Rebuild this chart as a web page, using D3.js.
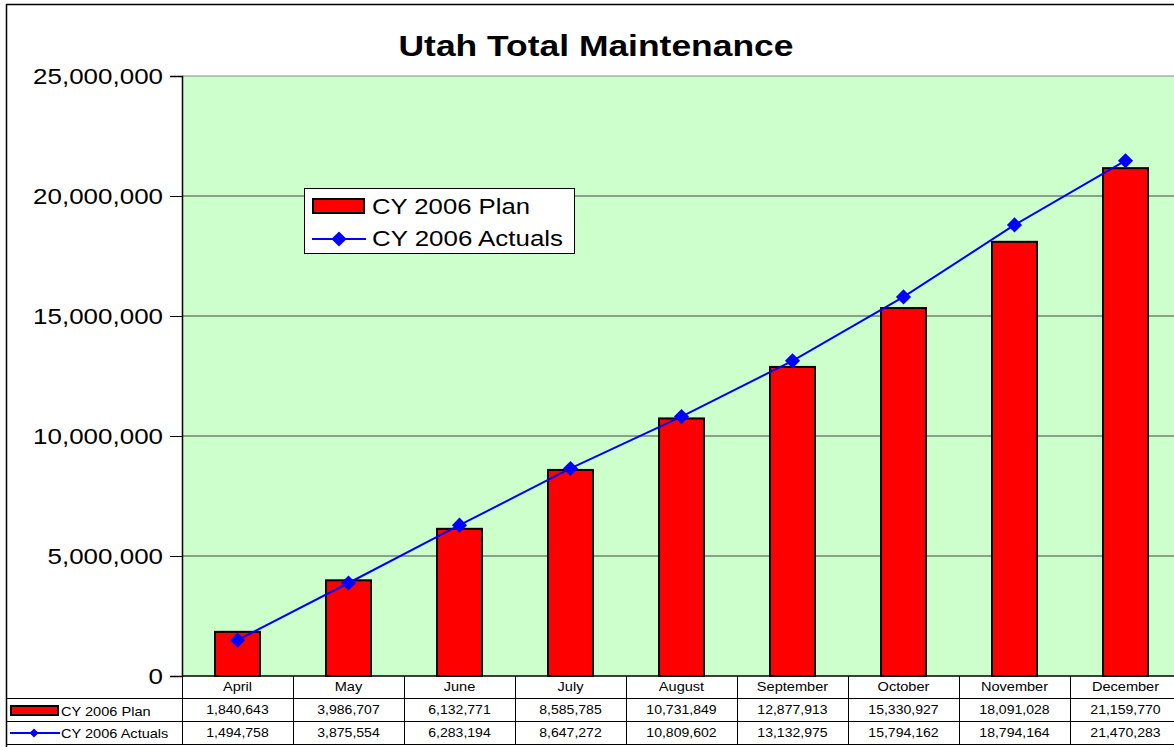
<!DOCTYPE html>
<html><head><meta charset="utf-8">
<script src="https://cdn.jsdelivr.net/npm/d3@7"></script>
<style>body{margin:0;background:#fff;}svg{display:block;font-family:Arial,"Liberation Sans",sans-serif;}</style>
</head><body>
<svg id="c" width="1174" height="747"></svg>
<script>
const categories = ["April","May","June","July","August","September","October","November","December"];
const planValues = [1840643,3986707,6132771,8585785,10731849,12877913,15330927,18091028,21159770];
const actualValues = [1494758,3875554,6283194,8647272,10809602,13132975,15794162,18794164,21470283];
const seriesNames = ["CY 2006 Plan","CY 2006 Actuals"];
const yTicks = [0,5000000,10000000,15000000,20000000,25000000];
const title = "Utah Total Maintenance";

const svg = d3.select("#c");
const L = 182, R = 1181, T = 76, B = 676;
const x = d3.scaleBand().domain(categories).range([L, R]).paddingInner(0.595).paddingOuter(0.2975);
const xc = d3.scaleBand().domain(categories).range([L, R]);
const y = d3.scaleLinear().domain([0, 25000000]).range([B, T]);
const fmt = d3.format(",");

function stretch(sel, f) {
  sel.each(function(){
    const n = this.getComputedTextLength();
    d3.select(this).attr("textLength", n*f).attr("lengthAdjust","spacingAndGlyphs");
  });
}

// outer border
svg.append("rect").attr("x",6.5).attr("y",4.5).attr("width",1180).attr("height",760).attr("fill","#fff").attr("stroke","#000").attr("stroke-width",1.5);

// plot bg
svg.append("rect").attr("x",L).attr("y",T).attr("width",R-L).attr("height",B-T).attr("fill","#CCFFCC");

// gridlines
svg.append("g").selectAll("line").data(yTicks.filter(d=>d>0)).join("line")
  .attr("x1",L).attr("x2",R).attr("y1",d=>y(d)).attr("y2",d=>y(d))
  .attr("stroke",d=>d===25000000?"#888":"#444").attr("stroke-width",1);

// y axis
const ya = svg.append("g").attr("transform",`translate(${L},0)`)
  .call(d3.axisLeft(y).tickValues(yTicks).tickFormat(fmt).tickSize(12).tickPadding(7));
ya.select(".domain").attr("stroke","#000").attr("stroke-width",1.5);
ya.selectAll(".tick line").attr("stroke","#000");
ya.selectAll(".tick text").attr("font-size",22).attr("fill","#000").attr("font-family","Arial, 'Liberation Sans', sans-serif").attr("dy","0.36em");
stretch(ya.selectAll(".tick text"), 1.18);

// bars
svg.append("g").selectAll("rect").data(planValues).join("rect")
  .attr("x",(d,i)=>x(categories[i])).attr("width",x.bandwidth())
  .attr("y",d=>y(d)).attr("height",d=>B-y(d))
  .attr("fill","#FF0000").attr("stroke","#000").attr("stroke-width",2);

// line
const cx = c => xc(c)+xc.bandwidth()/2;
svg.append("path").datum(actualValues)
  .attr("d",d3.line().x((d,i)=>cx(categories[i])).y(d=>y(d)))
  .attr("fill","none").attr("stroke","#0000FF").attr("stroke-width",2);
const diamond = d3.symbol().type(d3.symbolSquare).size(115);
svg.append("g").selectAll("path").data(actualValues).join("path")
  .attr("d",diamond).attr("transform",(d,i)=>`translate(${cx(categories[i])},${y(d)}) rotate(45)`)
  .attr("fill","#0000FF");

// title
const tt = svg.append("text").attr("x",596).attr("y",56).attr("text-anchor","middle")
  .attr("font-size",29).attr("font-weight","bold").text(title);
tt.attr("textLength",395).attr("lengthAdjust","spacingAndGlyphs");

// legend
const lg = svg.append("g");
lg.append("rect").attr("x",304.5).attr("y",188.5).attr("width",270).attr("height",65).attr("fill","#fff").attr("stroke","#000").attr("stroke-width",1);
lg.append("rect").attr("x",313).attr("y",199).attr("width",51).attr("height",14).attr("fill","#FF0000").attr("stroke","#000").attr("stroke-width",2);
lg.append("text").attr("x",372).attr("y",214).attr("font-size",22).text(seriesNames[0]).attr("textLength",158).attr("lengthAdjust","spacingAndGlyphs");
lg.append("line").attr("x1",312).attr("x2",366).attr("y1",239).attr("y2",239).attr("stroke","#0000FF").attr("stroke-width",2);
lg.append("path").attr("d",diamond).attr("transform","translate(339,239) rotate(45)").attr("fill","#0000FF");
lg.append("text").attr("x",372).attr("y",246).attr("font-size",22).text(seriesNames[1]).attr("textLength",191).attr("lengthAdjust","spacingAndGlyphs");

// data table
const tb = svg.append("g");
const rowY = [676, 698, 721, 744];
tb.append("line").attr("x1",L).attr("x2",R).attr("y1",rowY[0]).attr("y2",rowY[0]).attr("stroke","#000").attr("stroke-width",1.5);
[1,2,3].forEach(k=>{
  tb.append("line").attr("x1",6).attr("x2",R).attr("y1",rowY[k]+0.5).attr("y2",rowY[k]+0.5).attr("stroke","#000").attr("stroke-width",1);
});
categories.forEach(c=>{
  tb.append("line").attr("x1",xc(c)+0.5).attr("x2",xc(c)+0.5).attr("y1",rowY[0]).attr("y2",rowY[3]).attr("stroke","#000").attr("stroke-width",1);
});
const tc = tb.selectAll("text.cat").data(categories).join("text").attr("class","cat")
  .attr("x",d=>cx(d)).attr("y",691).attr("text-anchor","middle").attr("font-size",13).text(d=>d);
const tp = tb.selectAll("text.pv").data(planValues).join("text").attr("class","pv")
  .attr("x",(d,i)=>cx(categories[i])).attr("y",714).attr("text-anchor","middle").attr("font-size",13).text(d=>fmt(d));
const tav = tb.selectAll("text.av").data(actualValues).join("text").attr("class","av")
  .attr("x",(d,i)=>cx(categories[i])).attr("y",737).attr("text-anchor","middle").attr("font-size",13).text(d=>fmt(d));
stretch(tc, 1.12); stretch(tp, 1.08); stretch(tav, 1.08);
// row keys
tb.append("rect").attr("x",11).attr("y",706).attr("width",47).attr("height",9).attr("fill","#FF0000").attr("stroke","#000").attr("stroke-width",2);
const k1 = tb.append("text").attr("x",61).attr("y",716).attr("font-size",13).text(seriesNames[0]);
tb.append("line").attr("x1",10).attr("x2",60).attr("y1",733).attr("y2",733).attr("stroke","#0000FF").attr("stroke-width",2);
tb.append("path").attr("d",d3.symbol().type(d3.symbolSquare).size(40)).attr("transform","translate(34,733) rotate(45)").attr("fill","#0000FF");
const k2 = tb.append("text").attr("x",61).attr("y",738).attr("font-size",13).text(seriesNames[1]);
stretch(k1, 1.12); stretch(k2, 1.12);
</script>
</body></html>
